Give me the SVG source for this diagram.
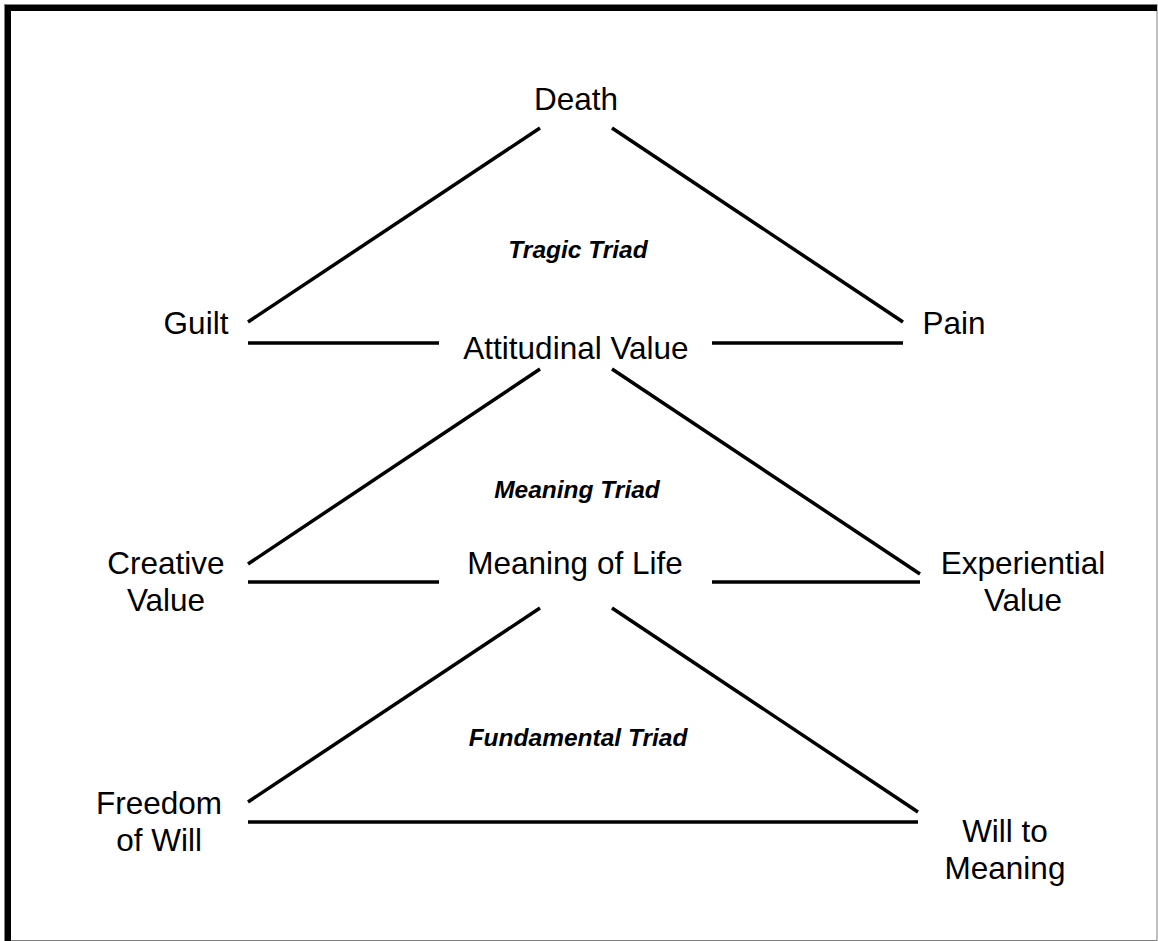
<svg xmlns="http://www.w3.org/2000/svg" width="1158" height="941" viewBox="0 0 1158 941">
<style>
.t{font-family:"Liberation Sans",Arial,sans-serif;font-size:31.5px;fill:#000;text-anchor:middle}
.l{font-family:"Liberation Sans",Arial,sans-serif;font-size:24.5px;font-weight:bold;font-style:italic;fill:#000;text-anchor:middle}
.c line{stroke:#000;stroke-width:3.5;stroke-linecap:butt}
</style>
<rect x="0" y="0" width="1158" height="941" fill="#fff"/>
<g id="frame">
<rect x="4.5" y="4.5" width="1152.5" height="936" fill="none" stroke="#808080" stroke-width="1"/>
<rect x="5" y="5" width="6" height="936" fill="#000"/>
<rect x="5" y="5" width="1152" height="6" fill="#000"/>
</g>
<g class="c" id="connectors">
<line x1="540" y1="128" x2="248" y2="322"/>
<line x1="612" y1="128" x2="903" y2="322"/>
<line x1="248" y1="343" x2="439" y2="343"/>
<line x1="712" y1="343" x2="903" y2="343"/>
<line x1="540" y1="369" x2="248" y2="564"/>
<line x1="612" y1="369" x2="920" y2="574"/>
<line x1="248" y1="582" x2="439" y2="582"/>
<line x1="712" y1="582" x2="920" y2="582"/>
<line x1="540" y1="608" x2="248" y2="802"/>
<line x1="612" y1="608" x2="918" y2="812"/>
<line x1="248" y1="822" x2="918" y2="822"/>
</g>
<g id="death"><text class="t" x="576" y="110">Death</text></g>
<g id="guilt"><text class="t" x="196" y="334">Guilt</text></g>
<g id="pain"><text class="t" x="954" y="334">Pain</text></g>
<g id="attitudinal"><text class="t" x="576" y="359">Attitudinal Value</text></g>
<g id="tragic"><text class="l" x="578" y="258">Tragic Triad</text></g>
<g id="meaningtriad"><text class="l" x="577" y="498">Meaning Triad</text></g>
<g id="creative"><text class="t" x="166" y="574">Creative</text><text class="t" x="166" y="611">Value</text></g>
<g id="meaninglife"><text class="t" x="575" y="574">Meaning of Life</text></g>
<g id="experiential"><text class="t" x="1023" y="574">Experiential</text><text class="t" x="1023" y="611">Value</text></g>
<g id="fundamental"><text class="l" x="578" y="746">Fundamental Triad</text></g>
<g id="freedom"><text class="t" x="159" y="814">Freedom</text><text class="t" x="159" y="851">of Will</text></g>
<g id="will"><text class="t" x="1005" y="842">Will to</text><text class="t" x="1005" y="879">Meaning</text></g>
</svg>
